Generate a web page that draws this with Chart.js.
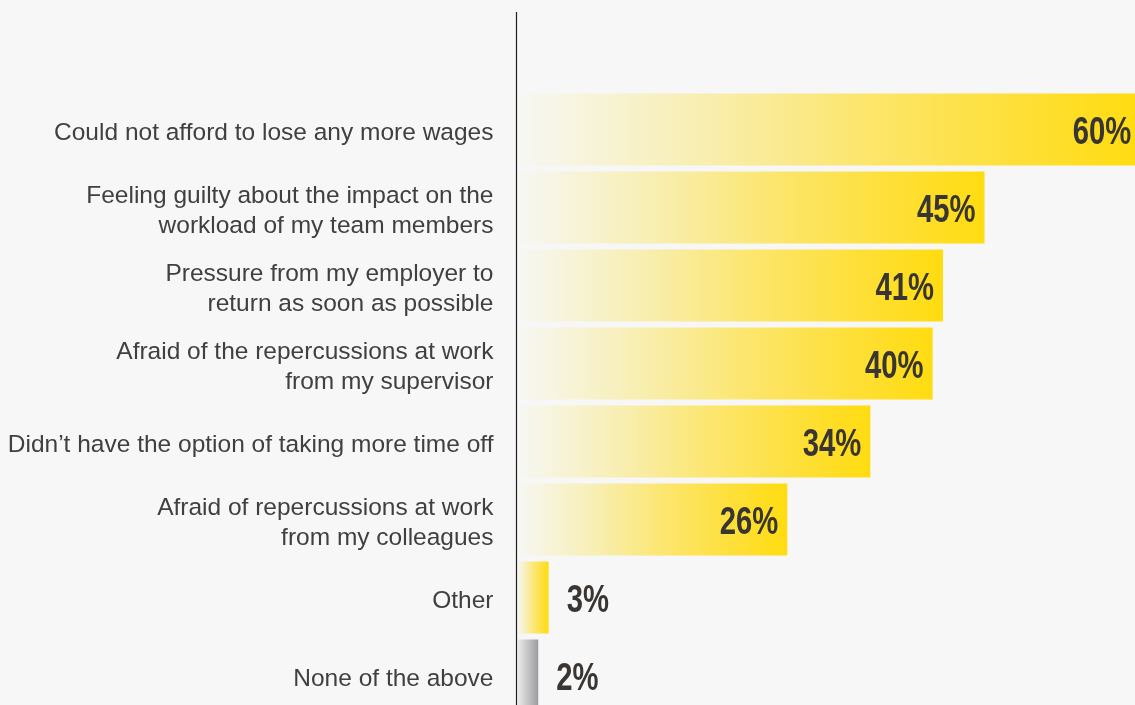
<!DOCTYPE html>
<html>
<head>
<meta charset="utf-8">
<script src="https://cdn.jsdelivr.net/npm/chart.js@4/dist/chart.umd.min.js"></script>
<style>
  html, body { margin: 0; padding: 0; background: #f7f7f7; overflow: hidden; }
  #wrap { width: 1135px; height: 720px; }
</style>
</head>
<body>
<div id="wrap"><canvas id="c" width="1135" height="720"></canvas></div>
<script>
const categories = [
  "Could not afford to lose any more wages",
  ["Feeling guilty about the impact on the", "workload of my team members"],
  ["Pressure from my employer to", "return as soon as possible"],
  ["Afraid of the repercussions at work", "from my supervisor"],
  "Didn\u2019t have the option of taking more time off",
  ["Afraid of repercussions at work", "from my colleagues"],
  "Other",
  "None of the above"
];
const values = [60, 45, 41, 40, 34, 26, 3, 2];
const valueLabels = ["60%", "45%", "41%", "40%", "34%", "26%", "3%", "2%"];
const barKinds = ["yellow", "yellow", "yellow", "yellow", "yellow", "yellow", "yellow", "gray"];

const yellowStops = [[0, "#f7f7f4"], [0.3, "#f8eeb0"], [0.55, "#fce66e"], [0.8, "#fedf38"], [1, "#ffdc10"]];
const grayStops = [[0, "#ececec"], [1, "#9d9da1"]];

function barFill(ctx) {
  const chart = ctx.chart;
  const area = chart.chartArea;
  if (!area) return "#ffe033";
  const xs = chart.scales.x;
  const i = ctx.dataIndex;
  const x0 = xs.getPixelForValue(0);
  const x1 = xs.getPixelForValue(values[i]);
  const g = chart.ctx.createLinearGradient(x0, 0, x1, 0);
  const stops = barKinds[i] === "gray" ? grayStops : yellowStops;
  stops.forEach(s => g.addColorStop(s[0], s[1]));
  return g;
}

const axisLinePlugin = {
  id: "axisLine",
  afterDraw(chart) {
    const c = chart.ctx;
    const x = chart.chartArea.left - 1;
    c.save();
    c.strokeStyle = "#231f20";
    c.lineWidth = 1.2;
    c.beginPath();
    c.moveTo(x, 12);
    c.lineTo(x, chart.height);
    c.stroke();
    c.restore();
  }
};

const valueLabelPlugin = {
  id: "valueLabels",
  afterDatasetsDraw(chart) {
    const c = chart.ctx;
    const meta = chart.getDatasetMeta(0);
    c.save();
    c.fillStyle = "#393532";
    c.font = "bold 39px 'Liberation Sans', Arial, sans-serif";
    c.textBaseline = "alphabetic";
    meta.data.forEach((bar, i) => {
      const text = valueLabels[i];
      const w = c.measureText(text).width * 0.75;
      const inside = (bar.x - bar.base) > w + 30;
      c.save();
      if (inside) {
        c.translate(bar.x - 9, bar.y + 14.5);
        c.scale(0.75, 1);
        c.textAlign = "right";
      } else {
        c.translate(bar.x + 18, bar.y + 14.5);
        c.scale(0.75, 1);
        c.textAlign = "left";
      }
      c.fillText(text, 0, 0);
      c.restore();
    });
    c.restore();
  }
};

new Chart(document.getElementById("c"), {
  type: "bar",
  data: {
    labels: categories,
    datasets: [{
      data: values,
      backgroundColor: barFill,
      borderWidth: 0,
      categoryPercentage: 1,
      barPercentage: 72 / 78
    }]
  },
  options: {
    indexAxis: "y",
    responsive: false,
    animation: false,
    devicePixelRatio: 1,
    layout: { padding: { top: 90.5, bottom: 5.5, left: 0, right: 0 } },
    plugins: { legend: { display: false }, tooltip: { enabled: false } },
    scales: {
      x: {
        display: false,
        min: 0,
        max: 59.5
      },
      y: {
        grid: { display: false, drawTicks: false },
        border: { display: false },
        ticks: {
          color: "#404040",
          padding: 24,
          labelOffset: 4,
          font: { family: "'Liberation Sans', Arial, sans-serif", size: 24.5, lineHeight: 1.23 }
        },
        afterFit(scale) {
          scale.width = 517.5;
          scale.paddingTop = 0;
          scale.paddingBottom = 0;
        }
      }
    }
  },
  plugins: [axisLinePlugin, valueLabelPlugin]
});
</script>
</body>
</html>
